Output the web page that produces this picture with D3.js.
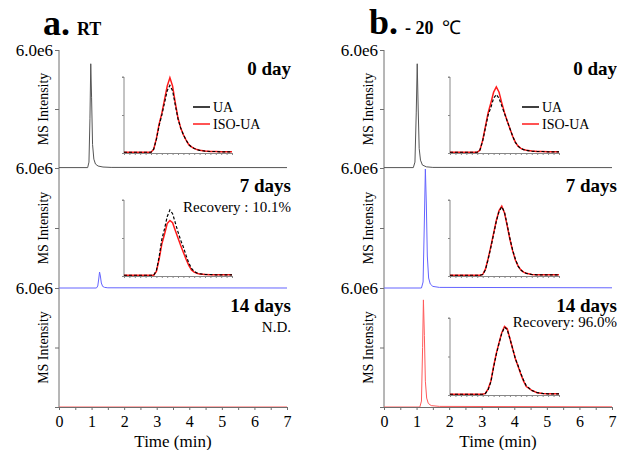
<!DOCTYPE html>
<html><head><meta charset="utf-8">
<script src="https://cdn.jsdelivr.net/npm/d3@7"></script>
<style>
body{margin:0;background:#fff;}
</style></head>
<body><svg id="c" width="617" height="450" style="font-family:'Liberation Serif','Times New Roman',Tinos,serif"></svg>
<script>
// ---------- DATA ----------
const xTicks = [0,1,2,3,4,5,6,7];
const yTickLabel = "6.0e6";
const dayLabels = ["0 day","7 days","14 days"];
const panelTitles = [["a.","RT"],["b.","- 20 ","℃"]];
const notesA = ["", "Recovery : 10.1%", "N.D."];
const notesB = ["", "", "Recovery: 96.0%"];
const legendNames = ["UA","ISO-UA"];

// main chromatograms (time in min, intensity in counts)
const aMain0T = [0,0.88,0.92,0.95,0.975,1.0,1.03,1.07,1.12,1.2,1.35,1.6,7];
const aMain0I = [0.02e6,0.02e6,0.3e6,2.5e6,5.3e6,3.6e6,1.2e6,0.45e6,0.2e6,0.1e6,0.05e6,0.03e6,0.02e6];
const aMain7T = [0,1.15,1.19,1.22,1.245,1.27,1.3,1.34,1.4,1.5,7];
const aMain7I = [0,0,0.1e6,0.45e6,0.8e6,0.6e6,0.25e6,0.08e6,0.03e6,0.01e6,0];
const aMain14T = [0,7];
const aMain14I = [0,0];
const bMain0T = [0,0.9,0.95,0.99,1.02,1.05,1.08,1.12,1.18,1.3,1.5,7];
const bMain0I = [0.02e6,0.02e6,0.3e6,2.8e6,5.3e6,3.0e6,1.0e6,0.4e6,0.15e6,0.06e6,0.03e6,0.02e6];
const bMain7T = [0,1.15,1.2,1.235,1.27,1.3,1.33,1.37,1.42,1.5,1.7,7];
const bMain7I = [0,0,0.3e6,3.0e6,5.95e6,4.2e6,1.6e6,0.5e6,0.2e6,0.08e6,0.03e6,0.01e6];
const bMain14T = [0,1.1,1.15,1.185,1.21,1.24,1.27,1.31,1.36,1.45,1.7,7];
const bMain14I = [0,0,0.3e6,3.0e6,5.4e6,3.6e6,1.3e6,0.45e6,0.18e6,0.07e6,0.03e6,0.01e6];

// inset (zoomed peak) profiles, relative intensity
const insetX = [0,1,2,3,4,5,5.5,6,6.5,7,7.5,8,8.5,9,9.5,10,10.5,11,11.5,12,12.5,13,13.5,14,15,16,17,18,19,20];
const aUA0  = [0.01,0.01,0.01,0.01,0.01,0.01,0.05,0.18,0.36,0.50,0.66,0.82,0.89,0.82,0.63,0.45,0.33,0.24,0.17,0.11,0.08,0.06,0.045,0.035,0.025,0.02,0.02,0.015,0.015,0.015];
const aISO0 = [0.01,0.01,0.01,0.01,0.01,0.01,0.05,0.19,0.38,0.52,0.70,0.88,0.99,0.88,0.66,0.46,0.33,0.24,0.17,0.11,0.08,0.06,0.045,0.035,0.025,0.02,0.02,0.015,0.015,0.015];
const aUA7  = [0.01,0.01,0.01,0.01,0.01,0.01,0.01,0.07,0.25,0.48,0.62,0.78,0.87,0.82,0.70,0.58,0.47,0.38,0.27,0.17,0.10,0.06,0.04,0.03,0.02,0.02,0.015,0.015,0.015,0.015];
const aISO7 = [0.01,0.01,0.01,0.01,0.01,0.01,0.01,0.06,0.22,0.42,0.55,0.69,0.73,0.70,0.60,0.50,0.40,0.31,0.22,0.14,0.08,0.05,0.035,0.025,0.02,0.015,0.015,0.015,0.015,0.015];
const bUA0  = [0.01,0.01,0.01,0.01,0.01,0.01,0.04,0.16,0.33,0.50,0.60,0.72,0.77,0.72,0.62,0.52,0.42,0.32,0.22,0.14,0.09,0.06,0.045,0.035,0.025,0.02,0.02,0.015,0.015,0.015];
const bISO0 = [0.01,0.01,0.01,0.01,0.01,0.01,0.04,0.17,0.35,0.53,0.66,0.80,0.87,0.80,0.66,0.53,0.42,0.32,0.22,0.14,0.09,0.06,0.045,0.035,0.025,0.02,0.02,0.015,0.015,0.015];
const bUA7  = [0.01,0.01,0.01,0.01,0.01,0.01,0.01,0.02,0.08,0.22,0.38,0.55,0.72,0.85,0.91,0.84,0.67,0.49,0.34,0.22,0.13,0.08,0.05,0.035,0.02,0.015,0.015,0.015,0.015,0.015];
const bISO7 = [0.01,0.01,0.01,0.01,0.01,0.01,0.01,0.02,0.09,0.23,0.39,0.56,0.73,0.86,0.92,0.83,0.66,0.48,0.33,0.21,0.13,0.08,0.05,0.035,0.02,0.015,0.015,0.015,0.015,0.015];
const bUA14 = [0.01,0.01,0.01,0.01,0.01,0.01,0.01,0.01,0.02,0.07,0.17,0.36,0.53,0.67,0.80,0.88,0.85,0.73,0.60,0.47,0.38,0.28,0.19,0.12,0.06,0.03,0.02,0.015,0.015,0.015];
const bISO14= [0.01,0.01,0.01,0.01,0.01,0.01,0.01,0.01,0.02,0.08,0.18,0.37,0.54,0.68,0.81,0.89,0.86,0.73,0.60,0.47,0.37,0.27,0.18,0.11,0.06,0.03,0.02,0.015,0.015,0.015];

// ---------- LAYOUT ----------
const FONT = "'Liberation Serif','Times New Roman',Tinos,serif";
const svg = d3.select("#c");
const rowsY = [[50,168],[168,288],[288,407]];
const insetRowsY = [[77,153],[200,276],[318,395]];
const panels = [
  {x0:59, x1:287, ix:[124,232], legX:193, title:[43,35], sub:77,
   mains:[[aMain0T,aMain0I,"#555"],[aMain7T,aMain7I,"#6464ff"],[aMain14T,aMain14I,"#ff5a5a"]],
   insets:[[aUA0,aISO0],[aUA7,aISO7],null], notes:notesA, noteY:[0,212,332]},
  {x0:384, x1:612, ix:[450,559], legX:522, title:[369,34], sub:405,
   mains:[[bMain0T,bMain0I,"#555"],[bMain7T,bMain7I,"#6464ff"],[bMain14T,bMain14I,"#ff5a5a"]],
   insets:[[bUA0,bISO0],[bUA7,bISO7],[bUA14,bISO14]], notes:notesB, noteY:[0,0,327]}
];
const axisCol = "#6e6e6e";
const dayY = [75,192,312];
const rightEdge = [291,617];

function T(sel){ return sel.append("text").attr("font-family",FONT).attr("fill","#000"); }

panels.forEach((p,pi)=>{
  const x = d3.scaleLinear().domain([0,7]).range([p.x0,p.x1]);
  const g = svg.append("g");
  // title
  T(g).attr("x",p.title[0]).attr("y",p.title[1]).attr("font-size",36).attr("font-weight","bold").text(panelTitles[pi][0]);
  const sub = T(g).attr("x",p.sub).attr("y",p.title[1]).attr("font-size",18).attr("font-weight","bold");
  sub.append("tspan").text(panelTitles[pi][1]);
  if (panelTitles[pi][2]) sub.append("tspan").attr("font-weight","normal").attr("font-size",19).attr("dx",4).text(panelTitles[pi][2]);

  // y axis line
  g.append("line").attr("x1",p.x0).attr("x2",p.x0).attr("y1",rowsY[0][0]).attr("y2",rowsY[2][1]).attr("stroke",axisCol);

  rowsY.forEach((ry,ri)=>{
    const y = d3.scaleLinear().domain([0,6e6]).range([ry[1],ry[0]]);
    const ax = d3.axisLeft(y).tickValues([0,3e6,6e6]).tickSize(4).tickFormat(d=> d===6e6 ? yTickLabel : "");
    const ag = g.append("g").attr("transform",`translate(${p.x0},0)`).call(ax);
    ag.attr("font-family",FONT);
    ag.select(".domain").remove();
    ag.selectAll("line").attr("stroke",axisCol);
    ag.selectAll("text").attr("font-size",17).attr("font-family",FONT).attr("x",-6).attr("fill","#000");
    // y label
    T(g).attr("transform",`translate(${p.x0-11},${(ry[0]+ry[1])/2}) rotate(-90)`)
      .attr("text-anchor","middle").attr("font-size",14).text("MS Intensity");
    // main trace
    const m = p.mains[ri];
    const pts = m[0].map((t,i)=>[t,m[1][i]]);
    g.append("path").datum(pts).attr("fill","none").attr("stroke",m[2]).attr("stroke-width",1)
      .attr("d",d3.line().x(d=>x(d[0])).y(d=>y(d[1])));
    // day labels
    T(g).attr("x",rightEdge[pi]).attr("y",dayY[ri]).attr("text-anchor","end")
      .attr("font-size",19).attr("font-weight","bold").text(dayLabels[ri]);
    if (p.notes[ri]) T(g).attr("x",rightEdge[pi]).attr("y",p.noteY[ri]).attr("text-anchor","end")
      .attr("font-size",15).text(p.notes[ri]);

    // inset
    const ins = p.insets[ri];
    if (ins){
      const iy = insetRowsY[ri];
      const ixs = d3.scaleLinear().domain([0,20]).range(p.ix);
      const iys = d3.scaleLinear().domain([0,1]).range([iy[1],iy[0]]);
      const ig = g.append("g");
      const xa = d3.axisBottom(ixs).ticks(20).tickSize(2).tickFormat("");
      const xg = ig.append("g").attr("transform",`translate(0,${iy[1]})`).call(xa);
      xg.select(".domain").attr("stroke","#888");
      xg.selectAll("line").attr("stroke","#888");
      const ya = d3.axisLeft(iys).tickValues([0,0.5,1]).tickSize(2).tickFormat("");
      const yg = ig.append("g").attr("transform",`translate(${p.ix[0]},0)`).call(ya);
      yg.select(".domain").attr("stroke","#888").attr("d",`M-2,${iy[0]}H0V${iy[1]}`);
      yg.selectAll("line").attr("stroke","#888");
      const ln = d3.line().x((d,i)=>ixs(insetX[i])).y(d=>iys(d));
      ig.append("path").datum(ins[1]).attr("fill","none").attr("stroke","#ff1a1a").attr("stroke-width",1.5).attr("d",ln);
      ig.append("path").datum(ins[0]).attr("fill","none").attr("stroke","#000").attr("stroke-width",1.2)
        .attr("stroke-dasharray","3,2").attr("d",ln);
      if (ri===0){
        legendNames.forEach((nm,li)=>{
          const ly = 107 + li*17;
          g.append("line").attr("x1",p.legX).attr("x2",p.legX+17).attr("y1",ly).attr("y2",ly)
            .attr("stroke", li===0 ? "#000" : "#ff1a1a").attr("stroke-width",1.5);
          T(g).attr("x",p.legX+20).attr("y",ly+5).attr("font-size",14).text(nm);
        });
      }
    }
  });

  // bottom x axis
  const xa = d3.axisBottom(x).tickValues(d3.range(0,7.01,0.5)).tickSize(3).tickFormat(d=> Number.isInteger(d)? d : "");
  const xg = g.append("g").attr("transform",`translate(0,${rowsY[2][1]})`).call(xa);
  xg.attr("font-family",FONT);
  xg.select(".domain").attr("stroke",axisCol);
  xg.selectAll("line").attr("stroke",axisCol);
  xg.selectAll("text").attr("font-size",16).attr("font-family",FONT).attr("fill","#000").attr("dy","0.9em");
  T(g).attr("x",(p.x0+p.x1)/2).attr("y",447).attr("text-anchor","middle").attr("font-size",17).text("Time (min)");
});
</script></body></html>
